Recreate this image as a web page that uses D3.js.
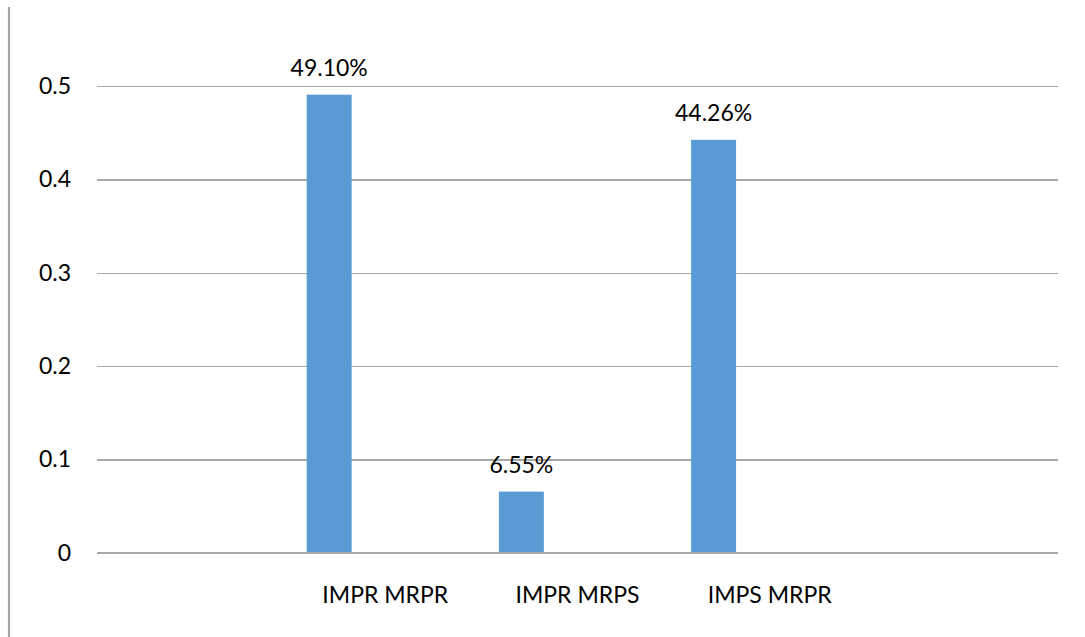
<!DOCTYPE html>
<html>
<head>
<meta charset="utf-8">
<script src="https://cdn.jsdelivr.net/npm/d3@7"></script>
<style>
  html, body { margin: 0; padding: 0; background: #fff; }
  svg text { font-family: Lato, "Noto Sans", sans-serif; fill: #000; }
</style>
</head>
<body>
<div id="chart"></div>
<script>
// categories (first and last slot are empty in the original)
var categories = ["", "IMPR MRPR", "IMPR MRPS", "IMPS MRPR", ""];
var values = [null, 0.491, 0.0655, 0.4426, null];
var yTicks = [0, 0.1, 0.2, 0.3, 0.4, 0.5];
var yTickLabels = ["0", "0.1", "0.2", "0.3", "0.4", "0.5"];

var width = 1085, height = 637;
var plotLeft = 97, plotRight = 1058, plotTop = 86.3, plotBottom = 552.7;
var fontSize = 23;

var svg = d3.select("#chart").append("svg")
    .attr("width", width)
    .attr("height", height);

// frame line on the left side
svg.append("line")
    .attr("x1", 9).attr("x2", 9)
    .attr("y1", 7).attr("y2", height)
    .style("stroke", "#a5a5a5")
    .style("stroke-width", 2.2);

var x = d3.scaleBand()
    .domain(d3.range(categories.length))
    .range([plotLeft, plotRight])
    .padding(0);

var y = d3.scaleLinear()
    .domain([0, 0.5])
    .range([plotBottom, plotTop]);

// y axis with gridlines
var yAxis = svg.append("g")
    .attr("transform", "translate(" + plotLeft + ",0)")
    .call(d3.axisLeft(y)
        .tickValues(yTicks)
        .tickFormat(function(d, i) { return yTickLabels[i]; })
        .tickSizeInner(-(plotRight - plotLeft))
        .tickSizeOuter(0)
        .tickPadding(26));

yAxis.select(".domain").remove();
yAxis.selectAll(".tick line")
    .style("stroke", "#a8a8a8")
    .style("stroke-width", 1.3)
    .attr("shape-rendering", "crispEdges");
yAxis.selectAll(".tick text")
    .style("font-size", fontSize + "px")
    .attr("fill", "#000");

// bars
var barOffset = 0.091, barWidth = 0.234;

var data = values.map(function(v, i) { return {idx: i, cat: categories[i], valor: v}; })
    .filter(function(d) { return d.valor != null; });

svg.selectAll(".bar")
    .data(data)
    .enter().append("rect")
    .attr("class", "bar")
    .attr("x", function(d) { return x(d.idx) + x.bandwidth() * barOffset; })
    .attr("width", x.bandwidth() * barWidth)
    .attr("y", function(d) { return y(d.valor); })
    .attr("height", function(d) { return y(0) - y(d.valor); })
    .style("fill", "#5b9bd5");

// redraw zero line on top of bars
svg.append("line")
    .attr("x1", plotLeft).attr("x2", plotRight)
    .attr("y1", y(0)).attr("y2", y(0))
    .style("stroke", "#a8a8a8")
    .style("stroke-width", 1.3)
    .attr("shape-rendering", "crispEdges");

// data labels
svg.selectAll(".label")
    .data(data)
    .enter().append("text")
    .attr("class", "label")
    .attr("x", function(d) { return x(d.idx) + x.bandwidth() * (barOffset + barWidth / 2); })
    .attr("y", function(d) { return y(d.valor) - 18.5; })
    .attr("text-anchor", "middle")
    .style("font-size", fontSize + "px")
    .text(function(d) { return d3.format(".2%")(d.valor); });

// category axis
var xAxis = svg.append("g")
    .attr("transform", "translate(0," + plotBottom + ")")
    .call(d3.axisBottom(x)
        .tickSize(0)
        .tickPadding(34)
        .tickFormat(function(i) { return categories[i]; }));

xAxis.select(".domain").remove();
xAxis.selectAll(".tick text")
    .style("font-size", fontSize + "px")
    .attr("fill", "#000");
</script>
</body>
</html>
